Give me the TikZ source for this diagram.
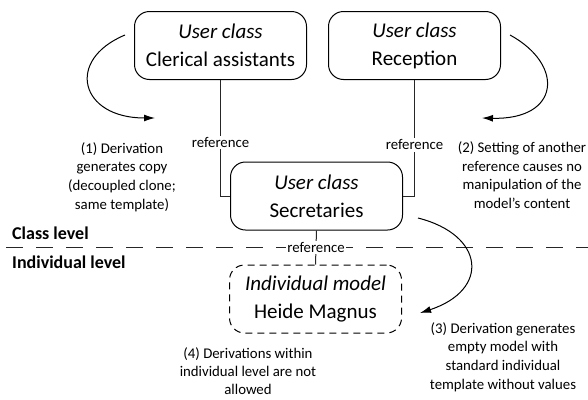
\documentclass[tikz,border=0pt]{standalone}
\usepackage{fontspec}
\setmainfont{Carlito}
\usepackage{tikz}
\usetikzlibrary{arrows.meta,positioning,calc}
\tikzset{
  flow/.style={-{Latex[length=11pt,width=7pt]},line width=1pt,draw=black},
  refline/.style={line width=1pt,draw=black!85},
  classbox/.style={rounded corners=15pt,draw=black,line width=1pt,fill=white,
              align=center,minimum height=68pt,minimum width=172pt,
              font=\fontsize{21}{28}\selectfont},
  indivbox/.style={classbox,dash pattern=on 7pt off 5pt},
  reflabel/.style={fill=white,inner sep=1.5pt,font=\fontsize{14.8}{18.7}\selectfont},
  note/.style={align=center,inner sep=0pt,font=\fontsize{14.8}{18.7}\selectfont},
  level/.style={anchor=west,inner sep=0pt,font=\fontsize{18}{22}\selectfont\bfseries}
}
\begin{document}
\begin{tikzpicture}[x=1pt,y=-1pt]
  \useasboundingbox (0,0) rectangle (588,399);
  \node[classbox] (cler) at (220.5,45.5) {\textit{User class}\\Clerical assistants};
  \node[classbox] (recep) at (414.5,45.5) {\textit{User class}\\Reception};
  \node[classbox] (secr) at (316.5,196) {\textit{User class}\\Secretaries};
  \node[indivbox] (indiv) at (315.5,299) {\textit{Individual model}\\Heide Magnus};
  \node[level] (classlvl) at (12,233) {Class level};
  \node[level] (indivlvl) at (12,262) {Individual level};
  \coordinate (sepL) at (6,247);
  \coordinate (sepR) at (588,247);
  \draw[line width=1pt,draw=black!85,dash pattern=on 17pt off 13pt] (sepL)--(sepR);
  \draw[refline] (cler.south) |- node[reflabel,pos=0.27] {reference} (secr.west);
  \draw[refline] (recep.south) |- node[reflabel,pos=0.28] {reference} (secr.east);
  \draw[refline] (secr.south) -- node[reflabel,pos=0.5] {reference} (indiv.north);
  \node[note] (note1) at (122,177) {(1) Derivation\\generates copy\\(decoupled clone;\\same template)};
  \node[note] (note2) at (522,175) {(2) Setting of another\\reference causes no\\manipulation of the\\model’s content};
  \node[note] (note3) at (503,357) {(3) Derivation generates\\empty model with\\standard individual\\template without values};
  \node[note,font=\fontsize{14.8}{18}\selectfont] (note4) at (248,371) {(4) Derivations within\\individual level are not\\allowed};
  \coordinate (d1s) at (125,35);
  \coordinate (d1e) at (155,118);
  \coordinate (d2s) at (510,35);
  \coordinate (d2e) at (482,118);
  \coordinate (d3s) at (418,218);
  \coordinate (d3e) at (420,313);
  \draw[flow] (d1s) .. controls (65,60) and (80,118) .. (d1e);
  \draw[flow] (d2s) .. controls (565,65) and (560,120) .. (d2e);
  \draw[flow] (d3s) .. controls (485,235) and (490,290) .. (d3e);
\end{tikzpicture}
\end{document}
